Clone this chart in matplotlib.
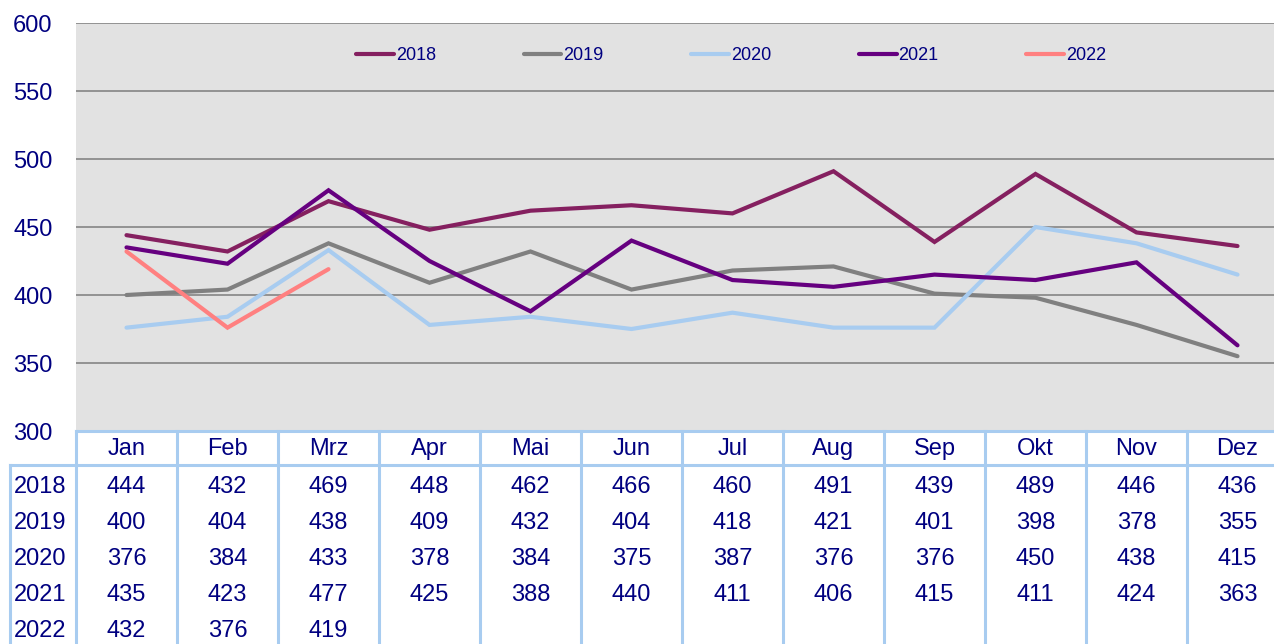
import matplotlib.pyplot as plt

months = ['Jan', 'Feb', 'Mrz', 'Apr', 'Mai', 'Jun', 'Jul', 'Aug', 'Sep', 'Okt', 'Nov', 'Dez']
years = ['2018', '2019', '2020', '2021', '2022']
v2018 = [444, 432, 469, 448, 462, 466, 460, 491, 439, 489, 446, 436]
v2019 = [400, 404, 438, 409, 432, 404, 418, 421, 401, 398, 378, 355]
v2020 = [376, 384, 433, 378, 384, 375, 387, 376, 376, 450, 438, 415]
v2021 = [435, 423, 477, 425, 388, 440, 411, 406, 415, 411, 424, 363]
v2022 = [432, 376, 419]
colors = ['#852060', '#808080', '#a8ccf0', '#660080', '#ff8080']

series = [v2018, v2019, v2020, v2021, v2022]
navy = '#000080'
grid_blue = '#a8ccf0'

plt.rcParams['font.family'] = ['Liberation Sans', 'DejaVu Sans']

W, H = 1274, 644
fig = plt.figure(figsize=(W / 100, H / 100), dpi=100)
colw = 101
left = 76
ax = fig.add_axes([left / W, (H - 431) / H, 12 * colw / W, 408 / H])
ax.set_facecolor('#e2e2e2')
ax.set_xlim(-0.5, 11.5)
ax.set_ylim(300, 600)
ax.set_yticks(range(300, 601, 50))
ax.tick_params(axis='y', length=0, pad=17, labelsize=17, labelcolor=navy)
ax.set_xticks([])
for s in ax.spines.values():
    s.set_visible(False)
for y in range(350, 601, 50):
    ax.axhline(y, color='#8c8c8c', lw=1.3, zorder=1)

x = list(range(12))
for name, vals, c in zip(years, series, colors):
    ax.plot(x[:len(vals)], vals, color=c, lw=3.0, label=name, zorder=3,
            solid_capstyle='round', solid_joinstyle='miter')

fig.legend(loc='center', bbox_to_anchor=(731 / W, 1 - 56 / H), ncol=5, frameon=False,
           handlelength=2.1, handletextpad=0.1, columnspacing=4.85,
           prop={'family': ['Liberation Sans Narrow', 'Liberation Sans'], 'size': 13},
           labelcolor=navy)

# data table below the plot
tab = fig.add_axes([left / W, 0, 12 * colw / W, (H - 431) / H])
tab.set_xlim(-0.5, 11.5)
tab.set_ylim(0, H - 431)
tab.axis('off')
top = H - 431
hdr = H - 465
x_left = (10 - left) / colw - 0.5
tab.plot([-0.5, 11.5], [top, top], color=grid_blue, lw=2.2, clip_on=False)
tab.plot([x_left, 11.5], [hdr, hdr], color=grid_blue, lw=2.2, clip_on=False)
tab.plot([x_left, x_left], [0, hdr], color=grid_blue, lw=2.2, clip_on=False)
for k in range(13):
    tab.plot([k - 0.5, k - 0.5], [0, top], color=grid_blue, lw=2.2, clip_on=False)

for i, m in enumerate(months):
    tab.text(i, H - 449, m, ha='center', va='center', fontsize=17, color=navy)
row_y = [H - 487, H - 523, H - 559, H - 595, H - 631]
for name, vals, yy in zip(years, series, row_y):
    tab.text((14 - left) / colw - 0.5, yy, name, ha='left', va='center', fontsize=17,
             color=navy, clip_on=False)
    for i, v in enumerate(vals):
        tab.text(i, yy, str(v), ha='center', va='center', fontsize=17, color=navy)

fig.savefig('out.png', dpi=100)
